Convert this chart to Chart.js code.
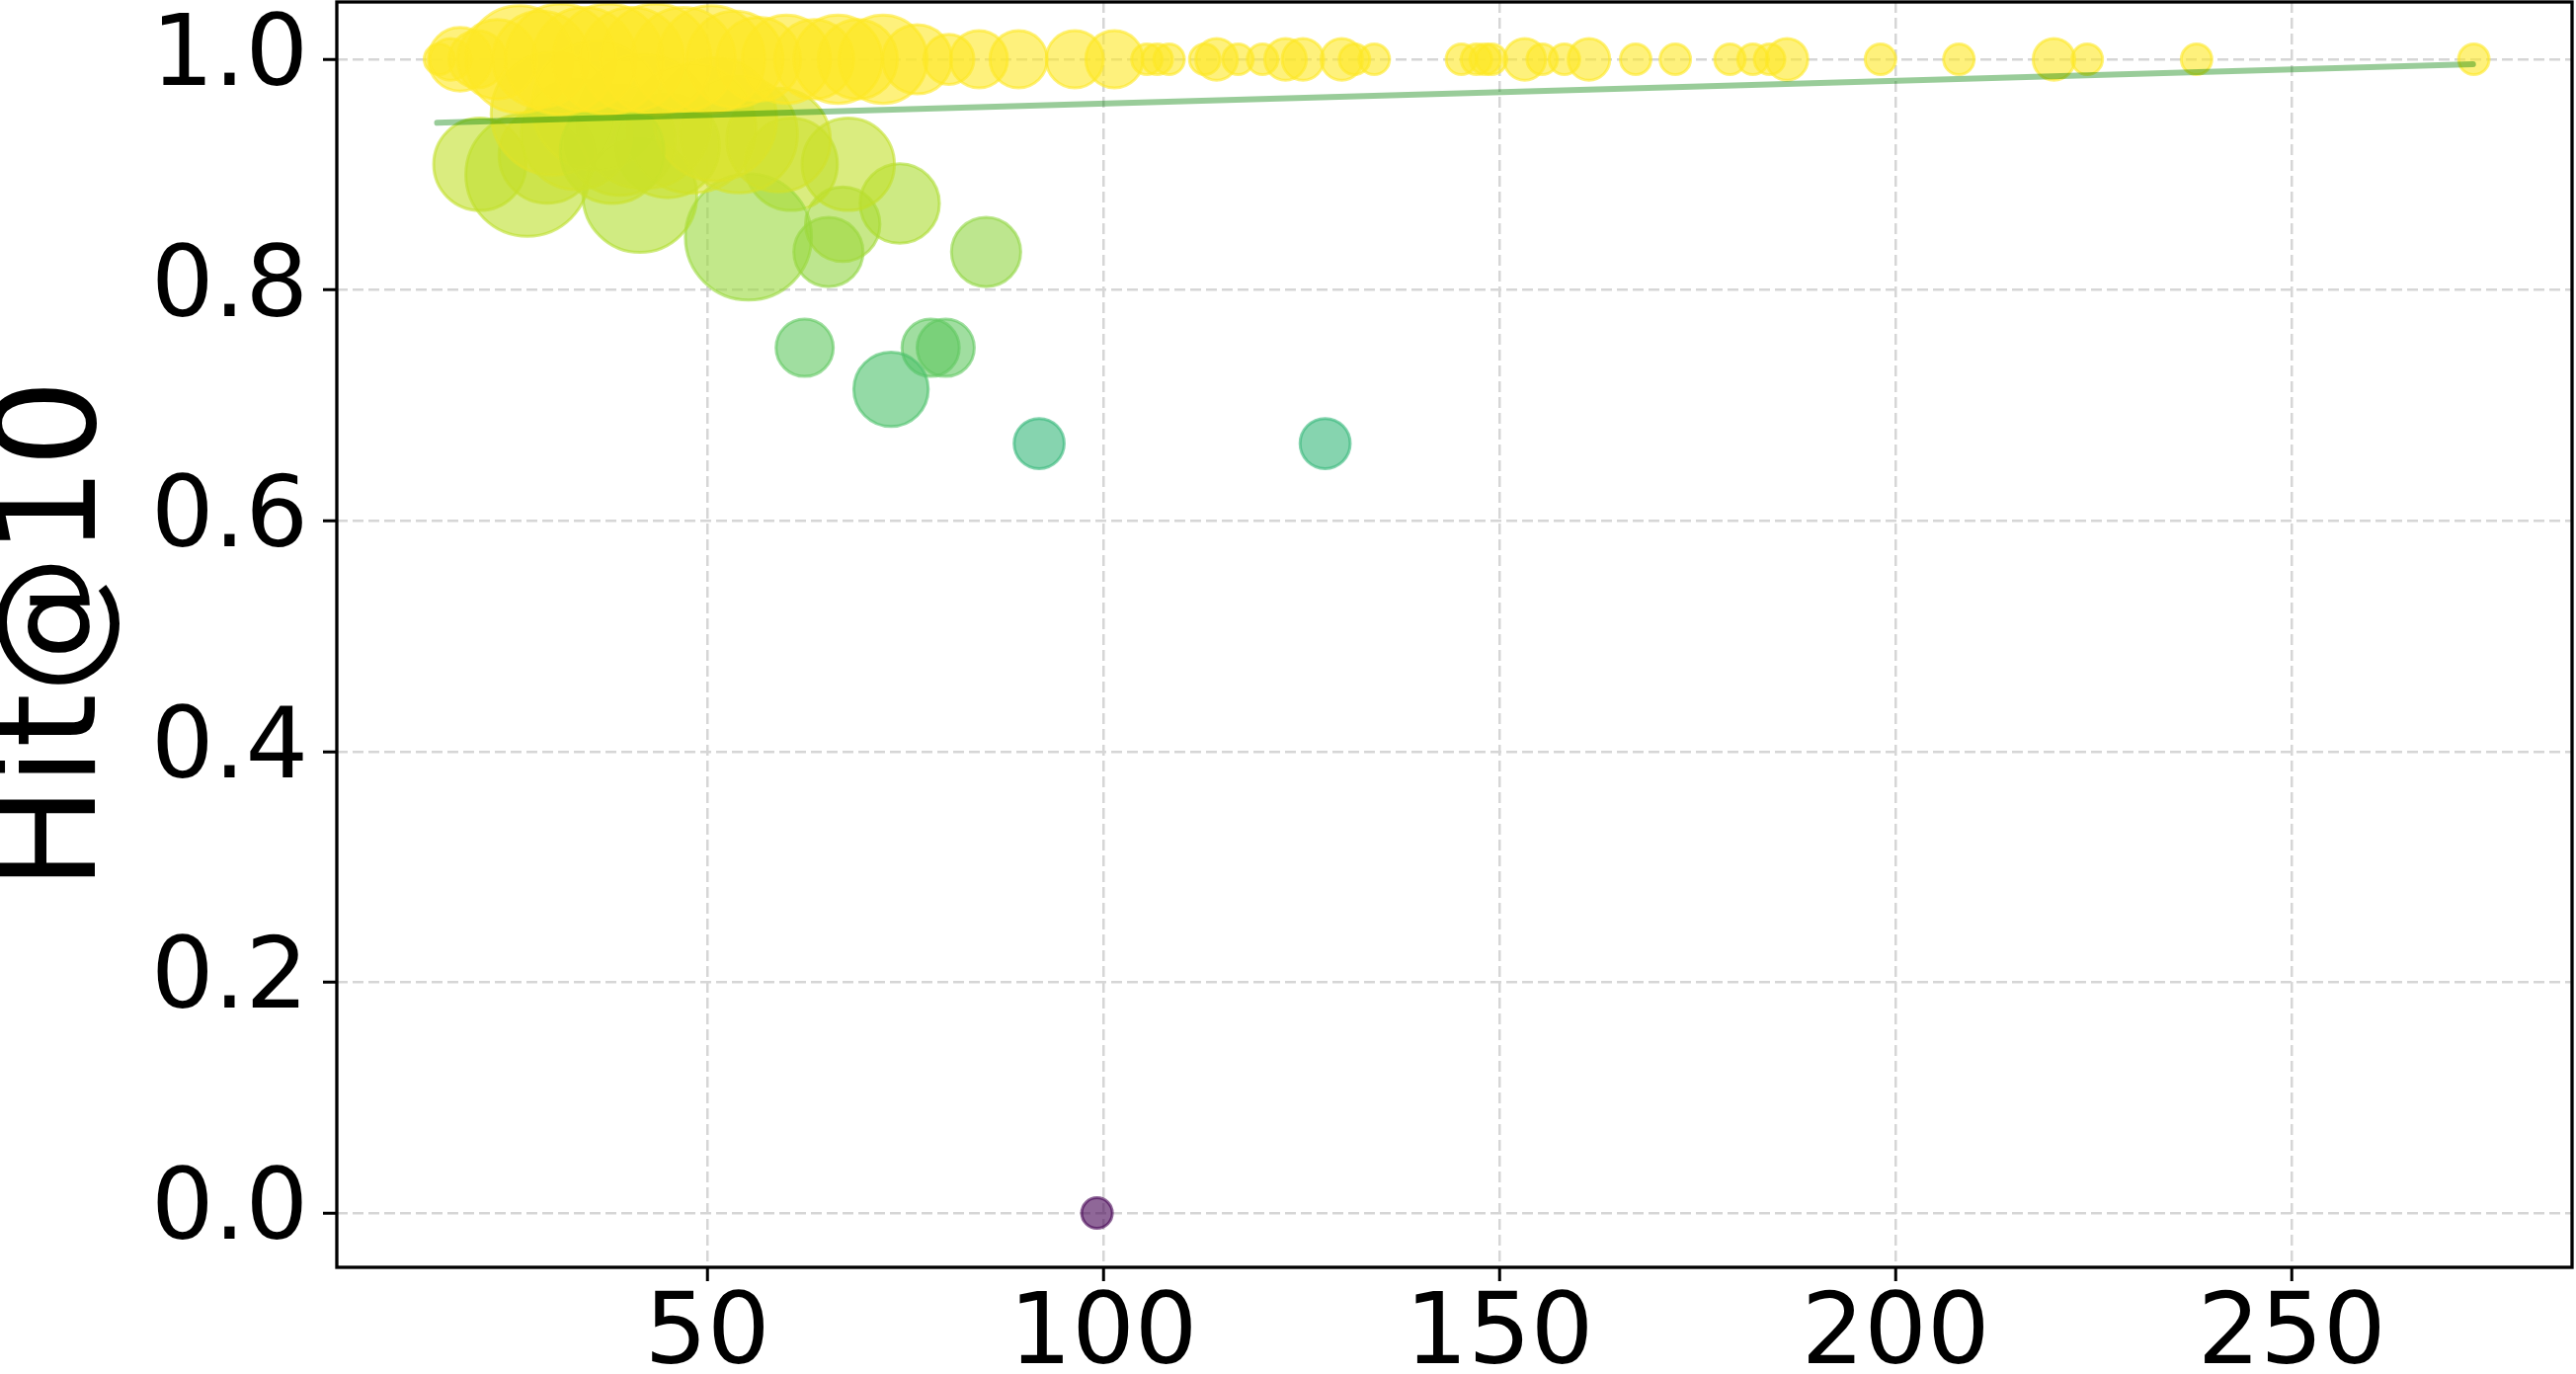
<!DOCTYPE html>
<html><head><meta charset="utf-8">
<script src="https://cdn.jsdelivr.net/npm/chart.js@4/dist/chart.umd.min.js"></script>
<style>html,body{margin:0;padding:0;background:#fff;overflow:hidden}</style>
</head><body>
<canvas id="c" width="2608" height="1391" style="display:block;width:2608px;height:1391px"></canvas>
<script>
// ---- data ----
// x position of each point
const xValues = [
  99.2, 91.9, 128.0, 62.3, 78.2, 80.1, 73.2,
  85.2, 65.3, 67.1, 74.3, 67.8, 60.6, 55.2, 41.5, 27.3, 21.3, 29.8,
  30.5, 36.0, 42.0, 48.0, 54.0, 59.0, 39.0, 45.0, 33.5, 51.0, 38.0,
  16.2, 17.6, 18.8, 21.0, 23.5, 26.3, 29.0, 31.5, 34.5, 37.5, 40.5, 43.5, 47.0, 50.5, 53.5,
  56.5, 60.0, 63.5, 66.5, 69.0, 72.2, 76.5, 80.5, 84.3, 89.3, 96.4, 101.4,
  105.5, 106.8, 108.3, 112.8, 114.3, 117.0, 120.1, 123.0, 125.2, 130.1, 131.7, 134.2,
  145.2, 147.1, 148.2, 149.0, 153.2, 155.4, 158.2, 161.3, 167.2, 172.2, 179.1, 182.0,
  184.1, 186.3, 198.1, 208.0, 220.0, 224.2, 238.0, 273.0
];
// Hit@10 of each point
const hitValues = [
  0.0, 0.667, 0.667, 0.75, 0.75, 0.75, 0.714,
  0.833, 0.833, 0.857, 0.875, 0.909, 0.909, 0.846, 0.882, 0.9, 0.909, 0.917,
  0.953, 0.96, 0.946, 0.94, 0.935, 0.93, 0.93, 0.925, 0.935, 0.948, 0.92,
  1, 1, 1, 1, 1, 1, 1, 1, 1, 1, 1, 1, 1, 1, 1,
  1, 1, 1, 1, 1, 1, 1, 1, 1, 1, 1, 1,
  1, 1, 1, 1, 1, 1, 1, 1, 1, 1, 1, 1,
  1, 1, 1, 1, 1, 1, 1, 1, 1, 1, 1, 1,
  1, 1, 1, 1, 1, 1, 1, 1
];
// number of samples behind each point (shown as bubble size)
const sampleCounts = [
  1, 3, 3, 4, 4, 4, 7,
  6, 6, 7, 8, 11, 11, 21, 17, 20, 11, 12,
  20, 22, 24, 22, 18, 14, 16, 14, 16, 20, 14,
  1, 2, 5, 4, 8, 15, 12, 16, 14, 16, 14, 16, 14, 15, 12,
  9, 10, 8, 10, 8, 10, 6, 3, 4, 4, 4, 4,
  1, 1, 1, 1, 2, 1, 1, 2, 2, 2, 1, 1,
  1, 1, 1, 1, 2, 1, 1, 2, 1, 1, 1, 1,
  1, 2, 1, 1, 2, 1, 1, 1
];
// fitted trend line end points
const trendX = [15.9, 272.9];
const trendY = [0.945, 0.9957];
// tick labels
const xTickValues = [50, 100, 150, 200, 250];
const yTickValues = [0.0, 0.2, 0.4, 0.6, 0.8, 1.0];
const xRange = [3.24, 285.4];
const yRange = [-0.047, 1.0497];

// ---- styling helpers ----
const viridisStops = ['#440154','#482878','#3e4989','#31688e','#26828e','#1f9e89','#35b779','#6ece58','#b5de2b','#fde725'];
function hexRgb(h){return [parseInt(h.slice(1,3),16),parseInt(h.slice(3,5),16),parseInt(h.slice(5,7),16)];}
function viridis(v, a){
  v = Math.max(0, Math.min(1, v));
  const p = v * (viridisStops.length - 1);
  const i = Math.min(Math.floor(p), viridisStops.length - 2);
  const t = p - i;
  const c0 = hexRgb(viridisStops[i]), c1 = hexRgb(viridisStops[i+1]);
  const c = c0.map((c, k) => Math.round(c + (c1[k] - c) * t));
  return `rgba(${c[0]},${c[1]},${c[2]},${a})`;
}
const radiusOf = n => 13.5 * Math.sqrt(n) + 2;

const points = xValues.map((x, i) => ({x: x, y: hitValues[i], r: radiusOf(sampleCounts[i])}));
const trend = trendX.map((x, i) => ({x: x, y: trendY[i]}));

const FONT = 'DejaVu Sans';
const gridColor = '#d6d6d6';

const framePlugin = {
  id: 'frame',
  afterDatasetsDraw(chart){
    const {ctx, chartArea: a} = chart;
    ctx.save();
    ctx.strokeStyle = '#000';
    ctx.lineWidth = 3.3;
    ctx.strokeRect(a.left, a.top, a.right - a.left, a.bottom - a.top);
    ctx.restore();
  }
};

function zeroPad(scale){ scale.paddingTop = 0; scale.paddingBottom = 0; scale.paddingLeft = 0; scale.paddingRight = 0; }

new Chart(document.getElementById('c').getContext('2d'), {
  type: 'bubble',
  data: {
    datasets: [
      {
        type: 'line',
        data: trend,
        borderColor: 'rgba(0,128,0,0.4)',
        borderWidth: 6,
        borderCapStyle: 'round',
        pointRadius: 0,
        fill: false,
        order: 0,
        clip: 0
      },
      {
        type: 'bubble',
        data: points,
        backgroundColor: c => viridis(c.raw ? c.raw.y : 1, 0.6),
        borderColor: c => viridis(c.raw ? c.raw.y : 1, 0.6),
        borderWidth: 3,
        order: 1,
        clip: 0
      }
    ]
  },
  options: {
    responsive: false,
    animation: false,
    devicePixelRatio: 1,
    layout: {autoPadding: false, padding: {left: 0, right: 4, top: 2, bottom: 0}},
    plugins: {legend: {display: false}, tooltip: {enabled: false}},
    scales: {
      x: {
        type: 'linear',
        position: 'bottom',
        min: xRange[0], max: xRange[1],
        afterBuildTicks: s => { s.ticks = xTickValues.map(v => ({value: v})); },
        afterFit: s => { s.height = 108; zeroPad(s); },
        ticks: {
          font: {family: FONT, size: 100, lineHeight: 1.0},
          color: '#000',
          padding: 7,
          maxRotation: 0,
          autoSkip: false,
          callback: v => String(v)
        },
        grid: {color: gridColor, lineWidth: 2.5, tickColor: '#000', tickWidth: 3, tickLength: 14, tickBorderDash: []},
        border: {display: false, dash: [11, 5]}
      },
      y: {
        type: 'linear',
        position: 'left',
        min: yRange[0], max: yRange[1],
        afterBuildTicks: s => { s.ticks = yTickValues.map(v => ({value: v})); },
        afterFit: s => { s.width = 341; zeroPad(s); },
        ticks: {
          font: {family: FONT, size: 100, lineHeight: 1.0},
          color: '#000',
          padding: 15,
          autoSkip: false,
          callback: v => Number(v).toFixed(1)
        },
        grid: {color: gridColor, lineWidth: 2.5, tickColor: '#000', tickWidth: 3, tickLength: 14, tickBorderDash: []},
        border: {display: false, dash: [11, 5]},
        title: {
          display: true,
          text: 'Hit@10',
          color: '#000',
          font: {family: FONT, size: 140, lineHeight: 0.85},
          padding: 0
        }
      }
    }
  },
  plugins: [framePlugin]
});
</script>
</body></html>
